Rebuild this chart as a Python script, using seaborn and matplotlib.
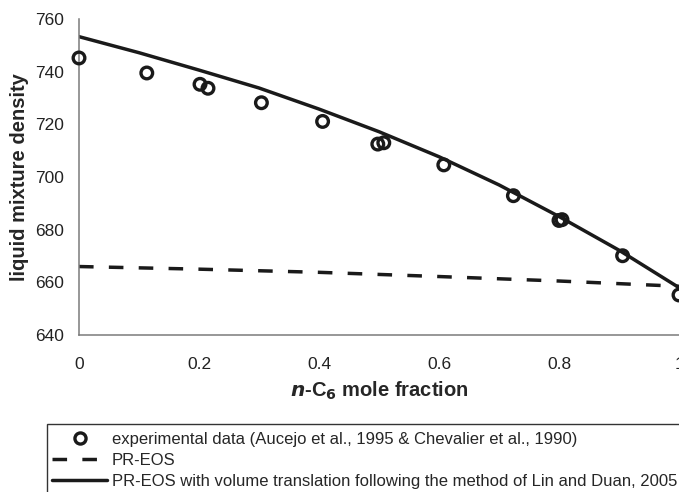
import matplotlib
matplotlib.use("Agg")
import matplotlib.pyplot as plt
import seaborn as sns
import pandas as pd
from matplotlib.patches import Rectangle
from matplotlib.lines import Line2D

# Experimental data
exp_x = [0.0, 0.113, 0.2017, 0.215, 0.304, 0.406, 0.498, 0.508, 0.608, 0.724, 0.800, 0.805, 0.906, 1.0]
exp_y = [745.2, 739.5, 735.2, 733.7, 728.2, 721.1, 712.5, 713.0, 704.6, 692.9, 683.5, 683.8, 670.1, 655.2]

# PR-EOS (dashed)
pr_x = [0.0, 0.2, 0.4, 0.6, 0.8, 1.0]
pr_y = [666.0, 665.0, 663.8, 662.2, 660.5, 658.5]

# PR-EOS with volume translation (solid)
vt_x = [0.0, 0.1, 0.2, 0.3, 0.4, 0.5, 0.6, 0.7, 0.8, 0.9, 1.0]
vt_y = [753.3, 747.2, 740.6, 733.8, 725.8, 717.2, 707.7, 697.0, 685.0, 672.2, 658.0]

x_ticks = [0, 0.2, 0.4, 0.6, 0.8, 1]
x_tick_labels = ["0", "0.2", "0.4", "0.6", "0.8", "1"]
y_ticks = [640, 660, 680, 700, 720, 740, 760]

legend_labels = [
    "experimental data (Aucejo et al., 1995 & Chevalier et al., 1990)",
    "PR-EOS",
    "PR-EOS with volume translation following the method of Lin and Duan, 2005",
]

sns.set_theme(style="white")
plt.rcParams['font.family'] = ['Liberation Sans', 'DejaVu Sans']

ink = "#1a1a1a"
LW = 2.5
DASH = [4.2, 4.4]

fig = plt.figure(figsize=(6.79, 4.92), dpi=100)
ax = fig.add_axes([79/679, 1 - 335/492, 1 - 79/679, (335 - 19)/492])

sns.lineplot(x=pr_x, y=pr_y, ax=ax, color=ink, lw=LW)
ax.lines[-1].set_dashes(DASH)
sns.lineplot(x=vt_x, y=vt_y, ax=ax, color=ink, lw=LW)
sns.scatterplot(x=exp_x, y=exp_y, ax=ax, marker="o", s=70, facecolors="none",
                edgecolor=ink, linewidth=2.4, zorder=5, clip_on=False)

ax.set_xlim(0, 1)
ax.set_ylim(640, 760)
ax.set_xticks(x_ticks)
ax.set_xticklabels(x_tick_labels)
ax.set_yticks(y_ticks)
ax.tick_params(axis="both", direction="out", length=4.5, width=0.9, color="#333333",
               labelsize=12.5, labelcolor="#222222")
ax.tick_params(axis="y", pad=6.5)
ax.tick_params(axis="x", pad=11)
for s in ["top", "right"]:
    ax.spines[s].set_visible(False)
for s in ["left", "bottom"]:
    ax.spines[s].set_color("#7a7a7a")
    ax.spines[s].set_linewidth(1.1)

ax.set_ylabel("liquid mixture density", fontsize=14.5, fontweight="bold", labelpad=4)
ax.set_xlabel(r"$\boldsymbol{n}$-C$_\mathbf{6}$ mole fraction", fontsize=14.5,
              fontweight="bold", labelpad=6)

# Legend
handles = [
    Line2D([], [], marker="o", linestyle="none", markerfacecolor="none",
           markeredgecolor=ink, markeredgewidth=2.4, markersize=8),
    Line2D([], [], color=ink, lw=LW, dashes=DASH),
    Line2D([], [], color=ink, lw=LW),
]
fig.legend(handles, legend_labels, loc="upper left",
           bbox_to_anchor=(52/679, 1 - 432/492),
           frameon=False, fontsize=12, handlelength=3.3, handletextpad=0.3,
           labelspacing=0.36, borderaxespad=0, borderpad=0)
fig.add_artist(Rectangle((47/679, -0.05), 1.0, (1 - 424/492) + 0.05,
                         transform=fig.transFigure, fill=False,
                         edgecolor="#333333", linewidth=1.0))

fig.savefig("out.png", dpi=100)
